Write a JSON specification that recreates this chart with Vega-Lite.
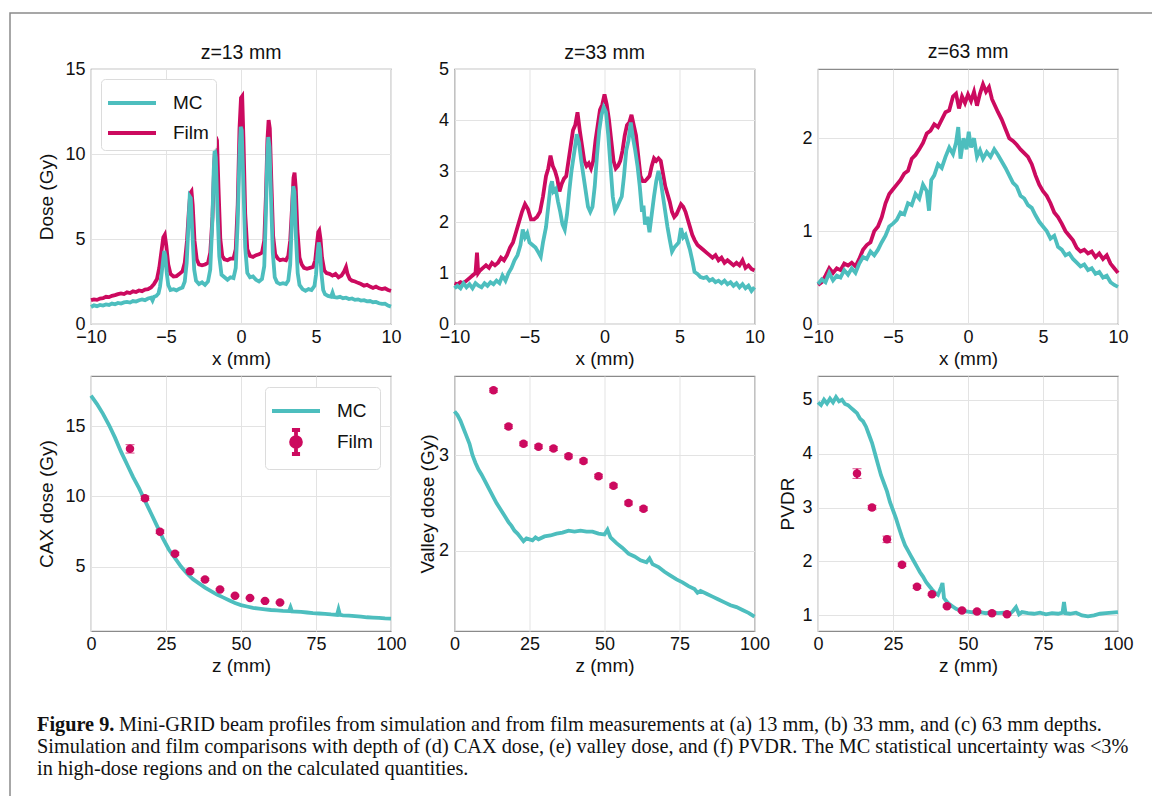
{
"$schema":"https://vega.github.io/schema/vega-lite/v6.json",
"padding":{"left":9,"top":12,"right":0,"bottom":0},
"background":"white",
"config":{
"font":"Liberation Sans",
"view":{"stroke":"#8a8a8a","strokeWidth":1.2},
"axis":{"domain":false,"ticks":false,"grid":true,"gridColor":"#e3e3e3","gridWidth":1,"labelFontSize":18,"titleFontSize":19,"titleFontWeight":"normal","labelColor":"#111","titleColor":"#111","labelPadding":6,"labelFlush":false,"labelOverlap":false},
"axisX":{"labelPadding":4,"titlePadding":3},
"title":{"fontSize":19.5,"fontWeight":"normal","offset":-3,"color":"#111"},
"line":{"strokeWidth":3.8}
},
"datasets":{
"a_mc":[{"x":-10,"y":1.0},{"x":-9.8,"y":1.1},{"x":-9.6,"y":1.05},{"x":-9.4,"y":1.12},{"x":-9.2,"y":1.08},{"x":-9.0,"y":1.15},{"x":-8.8,"y":1.12},{"x":-8.6,"y":1.2},{"x":-8.4,"y":1.16},{"x":-8.2,"y":1.24},{"x":-8.0,"y":1.2},{"x":-7.8,"y":1.27},{"x":-7.6,"y":1.3},{"x":-7.4,"y":1.26},{"x":-7.2,"y":1.35},{"x":-7.0,"y":1.32},{"x":-6.8,"y":1.4},{"x":-6.6,"y":1.45},{"x":-6.4,"y":1.4},{"x":-6.2,"y":1.5},{"x":-6.0,"y":1.55},{"x":-5.9,"y":1.38},{"x":-5.8,"y":1.6},{"x":-5.65,"y":1.65},{"x":-5.5,"y":1.8},{"x":-5.4,"y":2.2},{"x":-5.3,"y":2.9},{"x":-5.2,"y":3.7},{"x":-5.12,"y":4.3},{"x":-5.04,"y":4.0},{"x":-4.95,"y":3.0},{"x":-4.85,"y":2.3},{"x":-4.7,"y":2.0},{"x":-4.5,"y":2.05},{"x":-4.3,"y":1.98},{"x":-4.1,"y":2.08},{"x":-3.9,"y":2.15},{"x":-3.75,"y":2.5},{"x":-3.62,"y":3.6},{"x":-3.5,"y":5.9},{"x":-3.42,"y":7.5},{"x":-3.35,"y":7.4},{"x":-3.25,"y":5.5},{"x":-3.12,"y":3.2},{"x":-3.0,"y":2.55},{"x":-2.8,"y":2.35},{"x":-2.6,"y":2.45},{"x":-2.4,"y":2.3},{"x":-2.2,"y":2.5},{"x":-2.05,"y":3.2},{"x":-1.92,"y":5.8},{"x":-1.82,"y":9.0},{"x":-1.75,"y":10.3},{"x":-1.68,"y":9.8},{"x":-1.58,"y":7.0},{"x":-1.45,"y":4.0},{"x":-1.3,"y":2.9},{"x":-1.1,"y":2.75},{"x":-0.9,"y":2.6},{"x":-0.7,"y":2.75},{"x":-0.5,"y":2.7},{"x":-0.35,"y":3.3},{"x":-0.22,"y":6.0},{"x":-0.1,"y":10.0},{"x":-0.02,"y":11.6},{"x":0.05,"y":11.4},{"x":0.15,"y":8.5},{"x":0.28,"y":4.5},{"x":0.42,"y":3.0},{"x":0.6,"y":2.75},{"x":0.8,"y":2.8},{"x":1.0,"y":2.6},{"x":1.2,"y":2.5},{"x":1.4,"y":2.65},{"x":1.55,"y":3.4},{"x":1.66,"y":6.5},{"x":1.75,"y":9.8},{"x":1.82,"y":11.0},{"x":1.9,"y":10.4},{"x":2.0,"y":7.5},{"x":2.12,"y":4.2},{"x":2.25,"y":2.75},{"x":2.4,"y":2.45},{"x":2.6,"y":2.35},{"x":2.8,"y":2.4},{"x":3.0,"y":2.35},{"x":3.15,"y":2.55},{"x":3.28,"y":3.5},{"x":3.38,"y":5.8},{"x":3.48,"y":8.1},{"x":3.56,"y":7.8},{"x":3.66,"y":5.2},{"x":3.78,"y":3.0},{"x":3.9,"y":2.3},{"x":4.1,"y":2.05},{"x":4.3,"y":1.95},{"x":4.5,"y":2.05},{"x":4.7,"y":2.0},{"x":4.9,"y":2.25},{"x":5.0,"y":2.9},{"x":5.1,"y":4.1},{"x":5.18,"y":4.8},{"x":5.26,"y":4.4},{"x":5.36,"y":3.0},{"x":5.48,"y":2.0},{"x":5.6,"y":1.75},{"x":5.8,"y":1.65},{"x":6.0,"y":1.6},{"x":6.1,"y":1.85},{"x":6.2,"y":1.58},{"x":6.4,"y":1.55},{"x":6.6,"y":1.6},{"x":6.8,"y":1.52},{"x":7.0,"y":1.55},{"x":7.2,"y":1.47},{"x":7.4,"y":1.5},{"x":7.6,"y":1.42},{"x":7.8,"y":1.45},{"x":8.0,"y":1.38},{"x":8.2,"y":1.4},{"x":8.4,"y":1.33},{"x":8.6,"y":1.35},{"x":8.8,"y":1.28},{"x":9.0,"y":1.3},{"x":9.2,"y":1.22},{"x":9.4,"y":1.18},{"x":9.6,"y":1.2},{"x":9.8,"y":1.08},{"x":10.0,"y":1.02}],
"a_film":[{"x":-10,"y":1.4},{"x":-9.8,"y":1.45},{"x":-9.6,"y":1.42},{"x":-9.4,"y":1.5},{"x":-9.2,"y":1.52},{"x":-9.0,"y":1.6},{"x":-8.8,"y":1.58},{"x":-8.6,"y":1.66},{"x":-8.4,"y":1.7},{"x":-8.2,"y":1.76},{"x":-8.0,"y":1.8},{"x":-7.8,"y":1.76},{"x":-7.6,"y":1.86},{"x":-7.4,"y":1.82},{"x":-7.2,"y":1.92},{"x":-7.0,"y":1.88},{"x":-6.8,"y":1.97},{"x":-6.6,"y":1.93},{"x":-6.4,"y":2.02},{"x":-6.2,"y":2.05},{"x":-6.0,"y":2.15},{"x":-5.8,"y":2.35},{"x":-5.6,"y":2.65},{"x":-5.45,"y":3.3},{"x":-5.3,"y":4.3},{"x":-5.18,"y":5.1},{"x":-5.08,"y":5.25},{"x":-4.98,"y":4.6},{"x":-4.85,"y":3.5},{"x":-4.7,"y":2.95},{"x":-4.5,"y":2.8},{"x":-4.3,"y":2.82},{"x":-4.1,"y":2.95},{"x":-3.9,"y":3.1},{"x":-3.75,"y":3.6},{"x":-3.6,"y":4.9},{"x":-3.48,"y":6.6},{"x":-3.38,"y":7.7},{"x":-3.3,"y":7.8},{"x":-3.22,"y":7.0},{"x":-3.1,"y":4.9},{"x":-2.95,"y":3.8},{"x":-2.8,"y":3.5},{"x":-2.6,"y":3.45},{"x":-2.4,"y":3.5},{"x":-2.2,"y":3.6},{"x":-2.05,"y":4.2},{"x":-1.9,"y":6.3},{"x":-1.78,"y":9.5},{"x":-1.68,"y":11.0},{"x":-1.6,"y":10.8},{"x":-1.5,"y":8.0},{"x":-1.38,"y":5.0},{"x":-1.25,"y":4.0},{"x":-1.1,"y":3.8},{"x":-0.9,"y":3.75},{"x":-0.7,"y":3.85},{"x":-0.5,"y":3.85},{"x":-0.35,"y":4.4},{"x":-0.22,"y":7.0},{"x":-0.1,"y":11.5},{"x":0.0,"y":13.3},{"x":0.08,"y":13.4},{"x":0.16,"y":11.0},{"x":0.28,"y":6.5},{"x":0.42,"y":4.4},{"x":0.6,"y":4.0},{"x":0.8,"y":3.95},{"x":1.0,"y":4.05},{"x":1.2,"y":4.1},{"x":1.4,"y":4.2},{"x":1.55,"y":4.9},{"x":1.66,"y":7.5},{"x":1.76,"y":10.8},{"x":1.84,"y":12.0},{"x":1.92,"y":11.5},{"x":2.02,"y":8.5},{"x":2.14,"y":5.2},{"x":2.28,"y":4.1},{"x":2.45,"y":3.85},{"x":2.6,"y":3.75},{"x":2.8,"y":3.8},{"x":3.0,"y":3.75},{"x":3.15,"y":4.0},{"x":3.28,"y":4.9},{"x":3.4,"y":6.8},{"x":3.5,"y":8.6},{"x":3.57,"y":8.9},{"x":3.65,"y":8.0},{"x":3.76,"y":5.5},{"x":3.9,"y":3.9},{"x":4.05,"y":3.5},{"x":4.2,"y":3.3},{"x":4.4,"y":3.25},{"x":4.6,"y":3.3},{"x":4.8,"y":3.35},{"x":4.95,"y":3.75},{"x":5.05,"y":4.6},{"x":5.15,"y":5.4},{"x":5.22,"y":5.5},{"x":5.3,"y":5.0},{"x":5.4,"y":3.9},{"x":5.55,"y":3.15},{"x":5.7,"y":3.0},{"x":5.9,"y":2.95},{"x":6.1,"y":2.85},{"x":6.3,"y":2.95},{"x":6.5,"y":2.75},{"x":6.7,"y":2.85},{"x":6.85,"y":3.05},{"x":7.0,"y":3.35},{"x":7.1,"y":2.95},{"x":7.25,"y":2.65},{"x":7.4,"y":2.55},{"x":7.6,"y":2.5},{"x":7.8,"y":2.42},{"x":8.0,"y":2.35},{"x":8.2,"y":2.25},{"x":8.4,"y":2.3},{"x":8.6,"y":2.2},{"x":8.8,"y":2.12},{"x":9.0,"y":2.2},{"x":9.2,"y":2.1},{"x":9.4,"y":2.05},{"x":9.6,"y":2.1},{"x":9.8,"y":2.0},{"x":10.0,"y":1.95}],
"b_mc":[{"x":-10,"y":0.7},{"x":-9.8,"y":0.75},{"x":-9.6,"y":0.7},{"x":-9.4,"y":0.8},{"x":-9.2,"y":0.72},{"x":-9.0,"y":0.78},{"x":-8.8,"y":0.7},{"x":-8.6,"y":0.8},{"x":-8.4,"y":0.75},{"x":-8.2,"y":0.72},{"x":-8.0,"y":0.8},{"x":-7.8,"y":0.75},{"x":-7.6,"y":0.82},{"x":-7.4,"y":0.78},{"x":-7.2,"y":0.85},{"x":-7.0,"y":0.8},{"x":-6.8,"y":0.95},{"x":-6.6,"y":0.85},{"x":-6.4,"y":1.0},{"x":-6.2,"y":1.1},{"x":-6.0,"y":1.25},{"x":-5.8,"y":1.35},{"x":-5.6,"y":1.55},{"x":-5.45,"y":1.85},{"x":-5.3,"y":1.7},{"x":-5.15,"y":1.78},{"x":-5.0,"y":1.6},{"x":-4.8,"y":1.55},{"x":-4.6,"y":1.5},{"x":-4.4,"y":1.4},{"x":-4.25,"y":1.32},{"x":-4.1,"y":1.6},{"x":-3.9,"y":1.9},{"x":-3.75,"y":2.3},{"x":-3.6,"y":2.7},{"x":-3.5,"y":2.8},{"x":-3.4,"y":2.6},{"x":-3.25,"y":2.65},{"x":-3.1,"y":2.4},{"x":-2.95,"y":2.2},{"x":-2.8,"y":1.95},{"x":-2.65,"y":1.85},{"x":-2.5,"y":2.15},{"x":-2.35,"y":2.6},{"x":-2.2,"y":3.0},{"x":-2.0,"y":3.4},{"x":-1.85,"y":3.72},{"x":-1.7,"y":3.55},{"x":-1.55,"y":3.2},{"x":-1.4,"y":2.9},{"x":-1.25,"y":2.6},{"x":-1.1,"y":2.3},{"x":-0.95,"y":2.2},{"x":-0.8,"y":2.3},{"x":-0.65,"y":2.7},{"x":-0.5,"y":3.3},{"x":-0.35,"y":3.8},{"x":-0.2,"y":4.1},{"x":-0.05,"y":4.25},{"x":0.1,"y":4.15},{"x":0.25,"y":3.7},{"x":0.4,"y":3.1},{"x":0.55,"y":2.5},{"x":0.7,"y":2.22},{"x":0.85,"y":2.3},{"x":1.0,"y":2.4},{"x":1.15,"y":2.5},{"x":1.3,"y":2.9},{"x":1.45,"y":3.4},{"x":1.6,"y":3.6},{"x":1.75,"y":3.95},{"x":1.9,"y":3.65},{"x":2.05,"y":3.4},{"x":2.2,"y":3.1},{"x":2.35,"y":2.7},{"x":2.5,"y":2.2},{"x":2.6,"y":2.32},{"x":2.7,"y":1.95},{"x":2.85,"y":2.1},{"x":3.0,"y":1.8},{"x":3.15,"y":2.15},{"x":3.3,"y":2.5},{"x":3.45,"y":2.8},{"x":3.6,"y":3.0},{"x":3.75,"y":2.8},{"x":3.9,"y":2.5},{"x":4.05,"y":2.2},{"x":4.2,"y":1.9},{"x":4.35,"y":1.65},{"x":4.5,"y":1.42},{"x":4.65,"y":1.5},{"x":4.8,"y":1.55},{"x":4.95,"y":1.6},{"x":5.1,"y":1.88},{"x":5.25,"y":1.7},{"x":5.4,"y":1.75},{"x":5.55,"y":1.6},{"x":5.7,"y":1.45},{"x":5.85,"y":1.25},{"x":6.0,"y":1.02},{"x":6.2,"y":0.98},{"x":6.4,"y":0.92},{"x":6.6,"y":0.9},{"x":6.8,"y":0.92},{"x":7.0,"y":0.85},{"x":7.2,"y":0.88},{"x":7.4,"y":0.82},{"x":7.6,"y":0.85},{"x":7.8,"y":0.8},{"x":8.0,"y":0.85},{"x":8.2,"y":0.78},{"x":8.4,"y":0.82},{"x":8.6,"y":0.75},{"x":8.8,"y":0.8},{"x":9.0,"y":0.72},{"x":9.2,"y":0.78},{"x":9.4,"y":0.7},{"x":9.6,"y":0.75},{"x":9.8,"y":0.65},{"x":10,"y":0.72}],
"b_film":[{"x":-10,"y":0.8},{"x":-9.8,"y":0.78},{"x":-9.6,"y":0.82},{"x":-9.4,"y":0.8},{"x":-9.2,"y":0.85},{"x":-9.0,"y":0.9},{"x":-8.8,"y":0.95},{"x":-8.6,"y":1.0},{"x":-8.5,"y":1.4},{"x":-8.42,"y":1.0},{"x":-8.3,"y":1.05},{"x":-8.1,"y":1.1},{"x":-7.9,"y":1.15},{"x":-7.7,"y":1.1},{"x":-7.5,"y":1.2},{"x":-7.3,"y":1.15},{"x":-7.1,"y":1.2},{"x":-6.9,"y":1.3},{"x":-6.7,"y":1.25},{"x":-6.5,"y":1.35},{"x":-6.3,"y":1.5},{"x":-6.1,"y":1.6},{"x":-5.9,"y":1.8},{"x":-5.7,"y":2.0},{"x":-5.5,"y":2.2},{"x":-5.3,"y":2.35},{"x":-5.1,"y":2.25},{"x":-4.9,"y":2.05},{"x":-4.7,"y":2.05},{"x":-4.5,"y":2.1},{"x":-4.3,"y":2.2},{"x":-4.1,"y":2.5},{"x":-3.9,"y":2.9},{"x":-3.75,"y":3.05},{"x":-3.6,"y":3.3},{"x":-3.45,"y":3.1},{"x":-3.3,"y":3.0},{"x":-3.15,"y":2.85},{"x":-3.0,"y":2.6},{"x":-2.85,"y":2.75},{"x":-2.7,"y":2.85},{"x":-2.55,"y":2.9},{"x":-2.4,"y":3.2},{"x":-2.25,"y":3.5},{"x":-2.1,"y":3.8},{"x":-1.95,"y":3.9},{"x":-1.8,"y":4.15},{"x":-1.65,"y":3.8},{"x":-1.5,"y":3.5},{"x":-1.35,"y":3.2},{"x":-1.2,"y":3.1},{"x":-1.05,"y":3.15},{"x":-0.9,"y":3.05},{"x":-0.75,"y":3.2},{"x":-0.6,"y":3.6},{"x":-0.45,"y":3.9},{"x":-0.3,"y":4.2},{"x":-0.15,"y":4.3},{"x":0.0,"y":4.5},{"x":0.15,"y":4.3},{"x":0.3,"y":4.0},{"x":0.45,"y":3.6},{"x":0.6,"y":3.2},{"x":0.75,"y":3.05},{"x":0.9,"y":3.1},{"x":1.05,"y":3.2},{"x":1.2,"y":3.4},{"x":1.35,"y":3.7},{"x":1.5,"y":3.9},{"x":1.65,"y":3.95},{"x":1.8,"y":4.1},{"x":1.95,"y":3.9},{"x":2.1,"y":3.7},{"x":2.25,"y":3.3},{"x":2.4,"y":2.9},{"x":2.55,"y":2.8},{"x":2.7,"y":2.8},{"x":2.85,"y":2.85},{"x":3.0,"y":2.9},{"x":3.15,"y":3.1},{"x":3.3,"y":3.25},{"x":3.45,"y":3.2},{"x":3.6,"y":3.25},{"x":3.75,"y":3.2},{"x":3.9,"y":2.95},{"x":4.05,"y":2.7},{"x":4.2,"y":2.55},{"x":4.35,"y":2.4},{"x":4.5,"y":2.2},{"x":4.65,"y":2.1},{"x":4.8,"y":2.15},{"x":4.95,"y":2.25},{"x":5.1,"y":2.35},{"x":5.25,"y":2.3},{"x":5.4,"y":2.2},{"x":5.55,"y":2.05},{"x":5.7,"y":1.9},{"x":5.85,"y":1.75},{"x":6.0,"y":1.65},{"x":6.2,"y":1.55},{"x":6.4,"y":1.5},{"x":6.6,"y":1.45},{"x":6.8,"y":1.4},{"x":7.0,"y":1.35},{"x":7.2,"y":1.3},{"x":7.4,"y":1.35},{"x":7.6,"y":1.25},{"x":7.8,"y":1.3},{"x":8.0,"y":1.2},{"x":8.2,"y":1.25},{"x":8.4,"y":1.2},{"x":8.6,"y":1.15},{"x":8.8,"y":1.2},{"x":9.0,"y":1.15},{"x":9.2,"y":1.25},{"x":9.4,"y":1.1},{"x":9.6,"y":1.15},{"x":9.8,"y":1.08},{"x":10,"y":1.05}],
"c_mc":[{"x":-10,"y":0.43},{"x":-9.75,"y":0.48},{"x":-9.5,"y":0.45},{"x":-9.25,"y":0.55},{"x":-9,"y":0.47},{"x":-8.75,"y":0.52},{"x":-8.5,"y":0.5},{"x":-8.25,"y":0.58},{"x":-8,"y":0.53},{"x":-7.75,"y":0.6},{"x":-7.5,"y":0.55},{"x":-7.25,"y":0.65},{"x":-7,"y":0.72},{"x":-6.75,"y":0.7},{"x":-6.5,"y":0.78},{"x":-6.25,"y":0.74},{"x":-6,"y":0.8},{"x":-5.75,"y":0.88},{"x":-5.5,"y":0.95},{"x":-5.25,"y":1.05},{"x":-5,"y":1.08},{"x":-4.75,"y":1.12},{"x":-4.5,"y":1.2},{"x":-4.25,"y":1.18},{"x":-4,"y":1.3},{"x":-3.75,"y":1.28},{"x":-3.5,"y":1.4},{"x":-3.25,"y":1.35},{"x":-3,"y":1.5},{"x":-2.75,"y":1.43},{"x":-2.6,"y":1.22},{"x":-2.45,"y":1.55},{"x":-2.25,"y":1.6},{"x":-2,"y":1.72},{"x":-1.75,"y":1.68},{"x":-1.5,"y":1.8},{"x":-1.25,"y":1.9},{"x":-1,"y":1.83},{"x":-0.8,"y":1.95},{"x":-0.65,"y":2.12},{"x":-0.5,"y":1.78},{"x":-0.3,"y":2.0},{"x":-0.1,"y":1.88},{"x":0.05,"y":2.07},{"x":0.2,"y":1.9},{"x":0.4,"y":2.0},{"x":0.6,"y":1.8},{"x":0.8,"y":1.87},{"x":1,"y":1.78},{"x":1.25,"y":1.85},{"x":1.5,"y":1.8},{"x":1.75,"y":1.88},{"x":2,"y":1.82},{"x":2.25,"y":1.75},{"x":2.5,"y":1.68},{"x":2.75,"y":1.6},{"x":3,"y":1.52},{"x":3.25,"y":1.48},{"x":3.5,"y":1.38},{"x":3.75,"y":1.35},{"x":4,"y":1.28},{"x":4.25,"y":1.25},{"x":4.5,"y":1.17},{"x":4.75,"y":1.1},{"x":5,"y":1.05},{"x":5.25,"y":1.0},{"x":5.5,"y":0.92},{"x":5.75,"y":0.95},{"x":6,"y":0.83},{"x":6.25,"y":0.8},{"x":6.5,"y":0.74},{"x":6.75,"y":0.76},{"x":7,"y":0.7},{"x":7.25,"y":0.66},{"x":7.5,"y":0.62},{"x":7.75,"y":0.64},{"x":8,"y":0.58},{"x":8.25,"y":0.6},{"x":8.5,"y":0.54},{"x":8.75,"y":0.56},{"x":9,"y":0.5},{"x":9.25,"y":0.52},{"x":9.5,"y":0.45},{"x":9.75,"y":0.42},{"x":10,"y":0.4}],
"c_film":[{"x":-10,"y":0.42},{"x":-9.75,"y":0.45},{"x":-9.5,"y":0.52},{"x":-9.25,"y":0.6},{"x":-9,"y":0.55},{"x":-8.75,"y":0.6},{"x":-8.5,"y":0.58},{"x":-8.25,"y":0.65},{"x":-8,"y":0.63},{"x":-7.75,"y":0.66},{"x":-7.5,"y":0.62},{"x":-7.25,"y":0.7},{"x":-7,"y":0.8},{"x":-6.75,"y":0.85},{"x":-6.5,"y":0.88},{"x":-6.25,"y":1.0},{"x":-6,"y":1.05},{"x":-5.75,"y":1.15},{"x":-5.5,"y":1.3},{"x":-5.25,"y":1.4},{"x":-5,"y":1.45},{"x":-4.75,"y":1.5},{"x":-4.5,"y":1.55},{"x":-4.25,"y":1.62},{"x":-4,"y":1.65},{"x":-3.75,"y":1.78},{"x":-3.5,"y":1.82},{"x":-3.25,"y":1.88},{"x":-3,"y":1.95},{"x":-2.75,"y":2.05},{"x":-2.5,"y":2.08},{"x":-2.25,"y":2.15},{"x":-2,"y":2.12},{"x":-1.75,"y":2.2},{"x":-1.5,"y":2.28},{"x":-1.25,"y":2.3},{"x":-1,"y":2.45},{"x":-0.8,"y":2.48},{"x":-0.6,"y":2.32},{"x":-0.4,"y":2.45},{"x":-0.2,"y":2.38},{"x":0,"y":2.47},{"x":0.2,"y":2.4},{"x":0.4,"y":2.5},{"x":0.6,"y":2.35},{"x":0.8,"y":2.48},{"x":1,"y":2.58},{"x":1.2,"y":2.5},{"x":1.4,"y":2.55},{"x":1.6,"y":2.42},{"x":1.8,"y":2.35},{"x":2,"y":2.28},{"x":2.25,"y":2.2},{"x":2.5,"y":2.1},{"x":2.75,"y":2.0},{"x":3,"y":1.97},{"x":3.25,"y":1.93},{"x":3.5,"y":1.88},{"x":3.75,"y":1.84},{"x":4,"y":1.8},{"x":4.25,"y":1.72},{"x":4.5,"y":1.6},{"x":4.75,"y":1.5},{"x":5,"y":1.43},{"x":5.25,"y":1.38},{"x":5.5,"y":1.3},{"x":5.75,"y":1.2},{"x":6,"y":1.15},{"x":6.25,"y":1.08},{"x":6.5,"y":1.0},{"x":6.75,"y":0.95},{"x":7,"y":0.9},{"x":7.25,"y":0.82},{"x":7.5,"y":0.78},{"x":7.75,"y":0.8},{"x":8,"y":0.76},{"x":8.25,"y":0.78},{"x":8.5,"y":0.72},{"x":8.75,"y":0.76},{"x":9,"y":0.7},{"x":9.25,"y":0.74},{"x":9.5,"y":0.65},{"x":9.75,"y":0.6},{"x":10,"y":0.55}],
"d_mc":[{"z":0,"v":17.2},{"z":2,"v":16.6},{"z":4,"v":15.9},{"z":6,"v":15.1},{"z":8,"v":14.2},{"z":10,"v":13.2},{"z":12,"v":12.3},{"z":14,"v":11.4},{"z":16,"v":10.6},{"z":18,"v":9.7},{"z":20,"v":8.8},{"z":22,"v":7.9},{"z":24,"v":7.0},{"z":26,"v":6.2},{"z":28,"v":5.6},{"z":30,"v":5.0},{"z":32,"v":4.5},{"z":34,"v":4.1},{"z":36,"v":3.8},{"z":38,"v":3.5},{"z":40,"v":3.25},{"z":42,"v":3.0},{"z":44,"v":2.8},{"z":46,"v":2.6},{"z":48,"v":2.4},{"z":50,"v":2.25},{"z":52,"v":2.15},{"z":54,"v":2.05},{"z":56,"v":2.0},{"z":58,"v":1.95},{"z":60,"v":1.9},{"z":62,"v":1.87},{"z":64,"v":1.84},{"z":66,"v":1.82},{"z":66.5,"v":2.1},{"z":67,"v":1.8},{"z":70,"v":1.76},{"z":72,"v":1.72},{"z":74,"v":1.68},{"z":76,"v":1.65},{"z":78,"v":1.62},{"z":80,"v":1.58},{"z":82,"v":1.55},{"z":82.5,"v":1.95},{"z":83,"v":1.55},{"z":84,"v":1.52},{"z":86,"v":1.5},{"z":88,"v":1.46},{"z":90,"v":1.42},{"z":92,"v":1.38},{"z":94,"v":1.36},{"z":96,"v":1.33},{"z":98,"v":1.3},{"z":100,"v":1.28}],
"d_film":[{"z":13,"v":13.4,"e":0.3},{"z":18,"v":9.88,"e":0.15},{"z":23,"v":7.49,"e":0.12},{"z":28,"v":5.92,"e":0.1},{"z":33,"v":4.67,"e":0.08},{"z":38,"v":4.08,"e":0.08},{"z":43,"v":3.36,"e":0.06},{"z":48,"v":2.92,"e":0.05},{"z":53,"v":2.76,"e":0.05},{"z":58,"v":2.55,"e":0.05},{"z":63,"v":2.43,"e":0.05}],
"e_mc":[{"z":0,"v":3.46},{"z":1,"v":3.42},{"z":2,"v":3.36},{"z":3,"v":3.28},{"z":4,"v":3.2},{"z":5,"v":3.12},{"z":6,"v":3.0},{"z":7,"v":2.92},{"z":8,"v":2.85},{"z":9,"v":2.8},{"z":10,"v":2.74},{"z":11,"v":2.68},{"z":12,"v":2.62},{"z":13,"v":2.56},{"z":14,"v":2.5},{"z":15,"v":2.45},{"z":16,"v":2.4},{"z":17,"v":2.35},{"z":18,"v":2.3},{"z":19,"v":2.26},{"z":20,"v":2.21},{"z":21,"v":2.18},{"z":22,"v":2.14},{"z":23,"v":2.1},{"z":24,"v":2.13},{"z":25,"v":2.12},{"z":26,"v":2.11},{"z":27,"v":2.14},{"z":28,"v":2.12},{"z":30,"v":2.15},{"z":32,"v":2.16},{"z":34,"v":2.18},{"z":36,"v":2.19},{"z":38,"v":2.21},{"z":40,"v":2.2},{"z":42,"v":2.21},{"z":44,"v":2.2},{"z":46,"v":2.2},{"z":48,"v":2.18},{"z":50,"v":2.17},{"z":51,"v":2.22},{"z":52,"v":2.14},{"z":54,"v":2.08},{"z":56,"v":2.03},{"z":58,"v":1.97},{"z":60,"v":1.94},{"z":62,"v":1.9},{"z":64,"v":1.88},{"z":65,"v":1.92},{"z":66,"v":1.86},{"z":68,"v":1.83},{"z":70,"v":1.78},{"z":72,"v":1.74},{"z":74,"v":1.7},{"z":76,"v":1.67},{"z":78,"v":1.63},{"z":80,"v":1.6},{"z":81,"v":1.56},{"z":82,"v":1.58},{"z":84,"v":1.55},{"z":86,"v":1.52},{"z":88,"v":1.49},{"z":90,"v":1.46},{"z":92,"v":1.43},{"z":94,"v":1.41},{"z":96,"v":1.38},{"z":98,"v":1.35},{"z":100,"v":1.31}],
"e_film":[{"z":13,"v":3.68,"e":0.02},{"z":18,"v":3.3,"e":0.02},{"z":23,"v":3.12,"e":0.02},{"z":28,"v":3.09,"e":0.02},{"z":33,"v":3.07,"e":0.02},{"z":38,"v":2.99,"e":0.02},{"z":43,"v":2.94,"e":0.02},{"z":48,"v":2.78,"e":0.02},{"z":53,"v":2.68,"e":0.02},{"z":58,"v":2.5,"e":0.02},{"z":63,"v":2.44,"e":0.02}],
"f_mc":[{"z":0,"v":4.95},{"z":1,"v":4.9},{"z":2,"v":5.0},{"z":3,"v":4.93},{"z":4,"v":5.02},{"z":5,"v":4.95},{"z":6,"v":5.05},{"z":7,"v":4.97},{"z":8,"v":5.0},{"z":9,"v":4.92},{"z":10,"v":4.9},{"z":11,"v":4.85},{"z":12,"v":4.8},{"z":13,"v":4.75},{"z":14,"v":4.65},{"z":15,"v":4.6},{"z":16,"v":4.5},{"z":17,"v":4.35},{"z":18,"v":4.2},{"z":19,"v":4.0},{"z":20,"v":3.8},{"z":21,"v":3.6},{"z":22,"v":3.45},{"z":23,"v":3.3},{"z":24,"v":3.1},{"z":25,"v":2.95},{"z":26,"v":2.8},{"z":27,"v":2.62},{"z":28,"v":2.45},{"z":29,"v":2.3},{"z":30,"v":2.2},{"z":31,"v":2.1},{"z":32,"v":2.0},{"z":33,"v":1.9},{"z":34,"v":1.8},{"z":35,"v":1.72},{"z":36,"v":1.62},{"z":37,"v":1.55},{"z":38,"v":1.48},{"z":39,"v":1.42},{"z":40,"v":1.38},{"z":41,"v":1.52},{"z":41.5,"v":1.6},{"z":42,"v":1.32},{"z":43,"v":1.25},{"z":44,"v":1.2},{"z":45,"v":1.16},{"z":46,"v":1.12},{"z":47,"v":1.1},{"z":48,"v":1.08},{"z":50,"v":1.07},{"z":52,"v":1.05},{"z":54,"v":1.06},{"z":56,"v":1.04},{"z":58,"v":1.06},{"z":60,"v":1.04},{"z":62,"v":1.05},{"z":64,"v":1.03},{"z":65,"v":1.08},{"z":66,"v":1.15},{"z":67,"v":1.02},{"z":68,"v":1.06},{"z":70,"v":1.04},{"z":72,"v":1.03},{"z":74,"v":1.05},{"z":76,"v":1.02},{"z":78,"v":1.04},{"z":80,"v":1.03},{"z":81.5,"v":1.05},{"z":82,"v":1.25},{"z":82.5,"v":1.04},{"z":84,"v":1.03},{"z":86,"v":1.05},{"z":88,"v":1.0},{"z":90,"v":0.98},{"z":92,"v":1.0},{"z":94,"v":1.03},{"z":96,"v":1.04},{"z":98,"v":1.05},{"z":100,"v":1.06}],
"f_film":[{"z":13,"v":3.63,"e":0.09},{"z":18,"v":3.0,"e":0.04},{"z":23,"v":2.41,"e":0.06},{"z":28,"v":1.94,"e":0.03},{"z":33,"v":1.53,"e":0.03},{"z":38,"v":1.39,"e":0.02},{"z":43,"v":1.17,"e":0.02},{"z":48,"v":1.09,"e":0.02},{"z":53,"v":1.07,"e":0.02},{"z":58,"v":1.04,"e":0.02},{"z":63,"v":1.02,"e":0.02}]
},
"spacing":0,
"bounds":"flush",
"resolve":{"scale":{"color":"independent","shape":"independent"},"legend":{"color":"independent","shape":"independent"}},
"vconcat":[
{"width":1143,"height":56,"view":{"stroke":"#8a8a8a","strokeWidth":1.5,"strokeDash":[1143,1199,60,10]},"data":{"values":[]},"mark":{"type":"text"}},
{"spacing":0,"bounds":"flush",
"resolve":{"scale":{"color":"independent","shape":"independent"},"legend":{"color":"independent","shape":"independent"}},
"hconcat":[
{"width":81,"height":740,"view":{"stroke":"#8a8a8a","strokeWidth":1.5,"strokeDash":[0,902,760,10]},"data":{"values":[]},"mark":{"type":"text"}},
{"columns":3,
"spacing":{"row":52,"column":63.5},
"bounds":"flush",
"align":"all",
"resolve":{"scale":{"color":"independent","shape":"independent"},"legend":{"color":"independent","shape":"independent"}},
"concat":[
{"width":300,"height":255,"title":"z=13 mm",
"encoding":{"x":{"field":"x","type":"quantitative","title":"x (mm)","scale":{"domain":[-10,10],"nice":false},"axis":{"values":[-10,-5,0,5,10]}},
"y":{"field":"y","type":"quantitative","title":"Dose (Gy)","scale":{"domain":[0,15],"nice":false},"axis":{"values":[0,5,10,15],"titlePadding":8}}},
"layer":[
{"data":{"name":"a_film"},"mark":{"type":"line"},"encoding":{"color":{"datum":"Film","scale":{"domain":["MC","Film"],"range":["#4dbebe","#cc0a5f"]},"legend":{"title":null,"orient":"top-left","offset":10,"padding":7,"strokeColor":"#dcdcdc","fillColor":"white","cornerRadius":4,"symbolType":"M-1.6,0L1.6,0","symbolSize":900,"symbolOffset":7,"symbolStrokeWidth":4,"labelFontSize":19,"labelOffset":24,"rowPadding":3,"labelColor":"#111"}}}},
{"data":{"name":"a_mc"},"mark":{"type":"line"},"encoding":{"color":{"datum":"MC"}}},
{"data":{"values":[{"t":"a)"}]},"mark":{"type":"text","align":"left","baseline":"top","fontSize":19,"dx":2,"dy":3,"color":"#111"},"encoding":{"x":{"datum":-10},"y":{"datum":15},"text":{"field":"t"}}}
]},
{"width":300,"height":255,"title":"z=33 mm",
"encoding":{"x":{"field":"x","type":"quantitative","title":"x (mm)","scale":{"domain":[-10,10],"nice":false},"axis":{"values":[-10,-5,0,5,10]}},
"y":{"field":"y","type":"quantitative","title":null,"scale":{"domain":[0,5],"nice":false},"axis":{"values":[0,1,2,3,4,5]}}},
"layer":[
{"data":{"name":"b_film"},"mark":{"type":"line"},"encoding":{"color":{"datum":"Film","scale":{"domain":["MC","Film"],"range":["#4dbebe","#cc0a5f"]},"legend":null}}},
{"data":{"name":"b_mc"},"mark":{"type":"line"},"encoding":{"color":{"datum":"MC","legend":null}}},
{"data":{"values":[{"t":"b)"}]},"mark":{"type":"text","align":"left","baseline":"top","fontSize":19,"dx":2,"dy":3,"color":"#111"},"encoding":{"x":{"datum":-10},"y":{"datum":5},"text":{"field":"t"}}}
]},
{"width":300,"height":255,"title":{"text":"z=63 mm","offset":7},
"encoding":{"x":{"field":"x","type":"quantitative","title":"x (mm)","scale":{"domain":[-10,10],"nice":false},"axis":{"values":[-10,-5,0,5,10]}},
"y":{"field":"y","type":"quantitative","title":null,"scale":{"domain":[0,2.745],"nice":false},"axis":{"values":[0,1,2]}}},
"layer":[
{"data":{"name":"c_film"},"mark":{"type":"line"},"encoding":{"color":{"datum":"Film","scale":{"domain":["MC","Film"],"range":["#4dbebe","#cc0a5f"]},"legend":null}}},
{"data":{"name":"c_mc"},"mark":{"type":"line"},"encoding":{"color":{"datum":"MC","legend":null}}},
{"data":{"values":[{"t":"c)"}]},"mark":{"type":"text","align":"left","baseline":"top","fontSize":19,"dx":2,"dy":3,"color":"#111"},"encoding":{"x":{"datum":-10},"y":{"datum":2.745},"text":{"field":"t"}}}
]},
{"width":300,"height":255,
"encoding":{"x":{"field":"z","type":"quantitative","title":"z (mm)","scale":{"domain":[0,100],"nice":false},"axis":{"values":[0,25,50,75,100]}},
"y":{"field":"v","type":"quantitative","title":"CAX dose (Gy)","scale":{"domain":[0.4,18.6],"nice":false,"zero":false},"axis":{"values":[5,10,15],"titlePadding":8}}},
"layer":[
{"data":{"name":"d_mc"},"mark":{"type":"line"},"encoding":{"color":{"datum":"MC","scale":{"domain":["MC","Film"],"range":["#4dbebe","#cc0a5f"]},"legend":{"title":null,"orient":"top-right","offset":11,"padding":7,"strokeColor":"#dcdcdc","fillColor":"white","cornerRadius":4,"symbolSize":900,"symbolOffset":7,"symbolStrokeWidth":3,"symbolOpacity":1,"labelFontSize":19,"labelOffset":24,"rowPadding":1,"labelColor":"#111"}}}},
{"data":{"name":"d_film"},"mark":{"type":"errorbar","ticks":{"size":9,"color":"#cc0a5f","strokeWidth":2},"rule":{"color":"#cc0a5f","strokeWidth":2},"color":"#cc0a5f"},"encoding":{"yError":{"field":"e"}}},
{"data":{"name":"d_film"},"mark":{"type":"circle","size":72,"opacity":1},"encoding":{"color":{"datum":"Film"}}},
{"data":{"name":"d_film"},"mark":{"type":"point","filled":true,"opacity":0},"encoding":{"color":{"datum":"Film"},"shape":{"datum":"Film","scale":{"domain":["MC","Film"],"range":["M-1.6,0L1.6,0","M-0.27,-0.8L0.27,-0.8M0,-0.8L0,0.8M-0.27,0.8L0.27,0.8M0.33,0A0.33,0.33,0,1,1,-0.33,0A0.33,0.33,0,1,1,0.33,0Z"]},"legend":{"title":null,"orient":"top-right","offset":11,"padding":7,"strokeColor":"#dcdcdc","fillColor":"white","cornerRadius":4,"symbolSize":900,"symbolOffset":7,"symbolStrokeWidth":3,"symbolOpacity":1,"labelFontSize":19,"labelOffset":24,"rowPadding":1,"labelColor":"#111"}}}},
{"data":{"values":[{"t":"d)"}]},"mark":{"type":"text","align":"left","baseline":"top","fontSize":19,"dx":2,"dy":2,"color":"#111"},"encoding":{"x":{"datum":0},"y":{"datum":18.6},"text":{"field":"t"}}}
]},
{"width":300,"height":255,
"encoding":{"x":{"field":"z","type":"quantitative","title":"z (mm)","scale":{"domain":[0,100],"nice":false},"axis":{"values":[0,25,50,75,100]}},
"y":{"field":"v","type":"quantitative","title":"Valley dose (Gy)","scale":{"domain":[1.16,3.83],"nice":false,"zero":false},"axis":{"values":[2,3],"titlePadding":1}}},
"layer":[
{"data":{"name":"e_mc"},"mark":{"type":"line"},"encoding":{"color":{"datum":"MC","scale":{"domain":["MC","Film"],"range":["#4dbebe","#cc0a5f"]},"legend":null}}},
{"data":{"name":"e_film"},"mark":{"type":"errorbar","ticks":{"size":9,"color":"#cc0a5f","strokeWidth":2},"rule":{"color":"#cc0a5f","strokeWidth":2},"color":"#cc0a5f"},"encoding":{"yError":{"field":"e"}}},
{"data":{"name":"e_film"},"mark":{"type":"circle","size":72,"opacity":1},"encoding":{"color":{"datum":"Film","legend":null}}},
{"data":{"values":[{"t":"e)"}]},"mark":{"type":"text","align":"left","baseline":"top","fontSize":19,"dx":2,"dy":2,"color":"#111"},"encoding":{"x":{"datum":0},"y":{"datum":3.83},"text":{"field":"t"}}}
]},
{"width":300,"height":255,
"encoding":{"x":{"field":"z","type":"quantitative","title":"z (mm)","scale":{"domain":[0,100],"nice":false},"axis":{"values":[0,25,50,75,100]}},
"y":{"field":"v","type":"quantitative","title":"PVDR","scale":{"domain":[0.71,5.44],"nice":false,"zero":false},"axis":{"values":[1,2,3,4,5],"titlePadding":4}}},
"layer":[
{"data":{"name":"f_mc"},"mark":{"type":"line"},"encoding":{"color":{"datum":"MC","scale":{"domain":["MC","Film"],"range":["#4dbebe","#cc0a5f"]},"legend":null}}},
{"data":{"name":"f_film"},"mark":{"type":"errorbar","ticks":{"size":9,"color":"#cc0a5f","strokeWidth":2},"rule":{"color":"#cc0a5f","strokeWidth":2},"color":"#cc0a5f"},"encoding":{"yError":{"field":"e"}}},
{"data":{"name":"f_film"},"mark":{"type":"circle","size":72,"opacity":1},"encoding":{"color":{"datum":"Film","legend":null}}},
{"data":{"values":[{"t":"f)"}]},"mark":{"type":"text","align":"left","baseline":"top","fontSize":19,"dx":2,"dy":2,"color":"#111"},"encoding":{"x":{"datum":0},"y":{"datum":5.44},"text":{"field":"t"}}}
]},
{"width":300,"height":88,"view":{"stroke":null},
"encoding":{"x":{"datum":0,"type":"quantitative","scale":{"domain":[0,1]},"axis":null},
"y":{"field":"ln","type":"quantitative","scale":{"domain":[-1,3],"reverse":true},"axis":null},
"text":{"field":"t"}},
"layer":[
{"data":{"values":[{"ln":1,"t":"Figure 9."}]},"mark":{"type":"text","align":"left","baseline":"alphabetic","font":"Liberation Serif","fontSize":20.3,"fontWeight":"bold","dx":-54,"dy":4,"color":"#111"}},
{"data":{"values":[{"ln":1,"t":"Mini-GRID beam profiles from simulation and from film measurements at (a) 13 mm, (b) 33 mm, and (c) 63 mm depths."}]},"mark":{"type":"text","align":"left","baseline":"alphabetic","font":"Liberation Serif","fontSize":20.3,"dx":28,"dy":4,"color":"#111"}},
{"data":{"values":[{"ln":2,"t":"Simulation and film comparisons with depth of (d) CAX dose, (e) valley dose, and (f) PVDR. The MC statistical uncertainty was <3%"},{"ln":3,"t":"in high-dose regions and on the calculated quantities."}]},"mark":{"type":"text","align":"left","baseline":"alphabetic","font":"Liberation Serif","fontSize":20.3,"dx":-54,"dy":4,"color":"#111"}}
]}
]}
]}
]
}
